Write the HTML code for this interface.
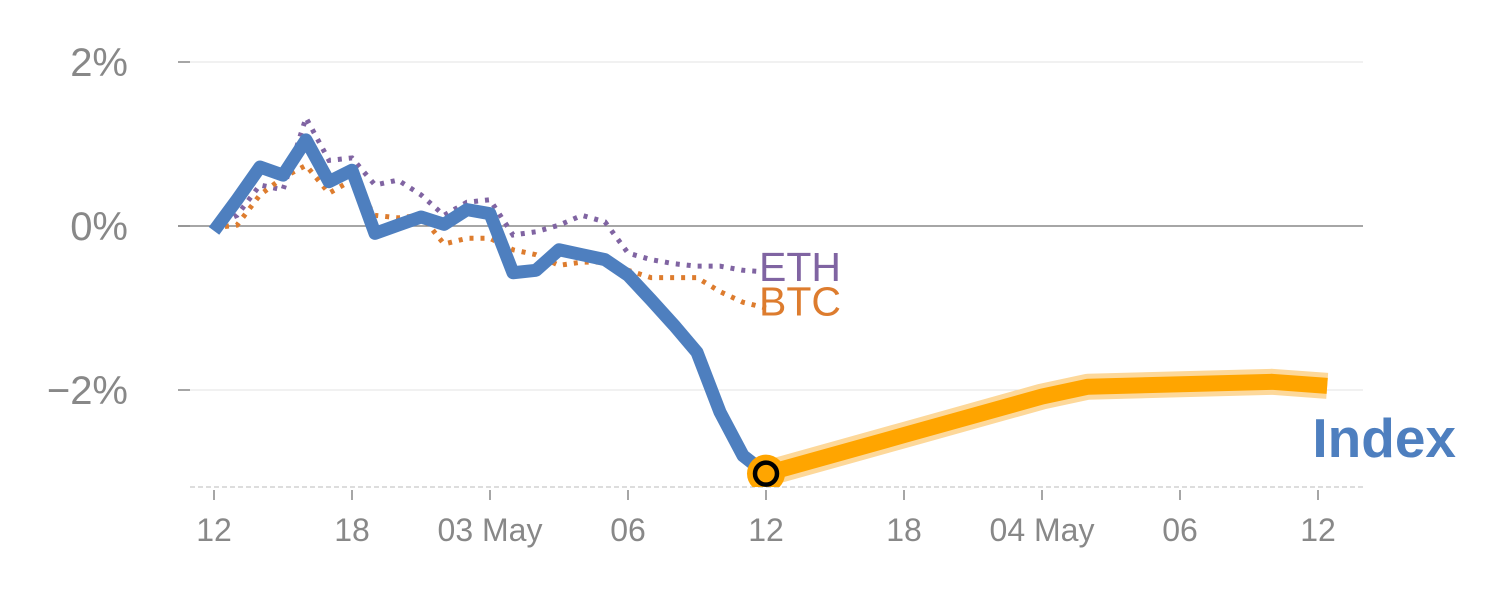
<!DOCTYPE html>
<html><head><meta charset="utf-8"><style>
body{margin:0;background:#fff}
svg text{font-family:"Liberation Sans",sans-serif}
</style></head><body>
<svg id="c" width="1500" height="600">
<defs><clipPath id="plot"><rect x="0" y="0" width="1500" height="487"/></clipPath></defs>
<g id="grid"></g><g id="series" clip-path="url(#plot)"></g><g id="labels"></g>
</svg>
<script>
const xTickLabels=["12","18","03 May","06","12","18","04 May","06","12"];
const yTicks=[2,0,-2];
const indexVals=[-0.06,0.32,0.72,0.62,1.05,0.54,0.68,-0.09,0.01,0.11,0.02,0.2,0.15,-0.57,-0.54,-0.29,-0.35,-0.41,-0.6,-0.9,-1.21,-1.54,-2.27,-2.8,-3.02];
const ethVals=[0,0.13,0.5,0.44,1.32,0.8,0.83,0.5,0.56,0.38,0.13,0.29,0.32,-0.11,-0.07,0.01,0.13,0.05,-0.33,-0.41,-0.46,-0.49,-0.49,-0.54,-0.56];
const btcVals=[-0.02,0.01,0.38,0.59,0.74,0.4,0.56,0.13,0.1,0.13,-0.22,-0.15,-0.15,-0.29,-0.35,-0.48,-0.44,-0.44,-0.54,-0.63,-0.63,-0.63,-0.8,-0.93,-1.0];
const fcHours=[24,30,36,38,46,48.4];
const fcVals=[-3.02,-2.55,-2.08,-1.96,-1.9,-1.95];
const X=h=>214+23*h, Y=v=>226-82*v;
const NS="http://www.w3.org/2000/svg";
function mk(p,tag,a){const e=document.createElementNS(NS,tag);for(const k in a)e.setAttribute(k,a[k]);p.appendChild(e);return e;}
const grid=document.getElementById('grid'),ser=document.getElementById('series'),lab=document.getElementById('labels');
yTicks.forEach(v=>{
 const l=mk(grid,'line',{x1:178,x2:1363,y1:Y(v),y2:Y(v),stroke:v===0?'#888':'#e3e3e3','stroke-width':v===0?1.5:1});
 
 
 mk(grid,'line',{x1:178,x2:190,y1:Y(v),y2:Y(v),stroke:'#888','stroke-width':1.5});
 const t=mk(lab,'text',{x:128,y:Y(v)+14,'text-anchor':'end','font-size':40,fill:'#888'});
 t.textContent=(v<0?'\u2212':'')+Math.abs(v)+'%';
 
 
});
mk(grid,'line',{x1:190,x2:1365,y1:487,y2:487,stroke:'#ddd','stroke-width':2,'stroke-dasharray':'5,3'});
xTickLabels.forEach((s,i)=>{
 const x=X(i*6);
 mk(grid,'line',{x1:x,x2:x,y1:490,y2:500,stroke:'#888','stroke-width':1.5});
 const t=mk(lab,'text',{x:x,y:541,'text-anchor':'middle','font-size':32,fill:'#888'});
 t.textContent=s;
 
 
});
const pts=(vals,hs)=>vals.map((v,i)=>X(hs?hs[i]:i)+','+Y(v)).join(' ');
let e=mk(ser,'polyline',{points:pts(ethVals),fill:'none',stroke:'#8064a2','stroke-width':5,'stroke-dasharray':'4,7'});

e=mk(ser,'polyline',{points:pts(btcVals),fill:'none',stroke:'#dd7c2e','stroke-width':5,'stroke-dasharray':'4,7'});

e=mk(ser,'polyline',{points:pts(indexVals),fill:'none',stroke:'#4e7fbf','stroke-width':13,'stroke-linejoin':'round'});

mk(ser,'polyline',{points:pts(fcVals,fcHours),fill:'none',stroke:'#fdd89a','stroke-width':26,'stroke-linejoin':'round'});
e=mk(ser,'polyline',{points:pts(fcVals,fcHours),fill:'none',stroke:'#ffa500','stroke-width':16,'stroke-linejoin':'round'});

const mx=X(24),my=Y(indexVals[24]);
mk(ser,'circle',{cx:mx,cy:my,r:19,fill:'#ffa500'});
e=mk(ser,'circle',{cx:mx,cy:my,r:11,fill:'#ffa500',stroke:'#000','stroke-width':4.5});

[['ETH','#8064a2',ethVals[24]+0.06],['BTC','#dd7c2e',btcVals[24]+0.08]].forEach(([s,c,v])=>{
 const t=mk(lab,'text',{x:759,y:Y(v)+14,'font-size':41,fill:c});t.textContent=s;
 
 
});
e=mk(lab,'text',{x:1456,y:457,'text-anchor':'end','font-size':55,'font-weight':'bold',fill:'#4e7fbf'});e.textContent='Index';

</script>
</body></html>
